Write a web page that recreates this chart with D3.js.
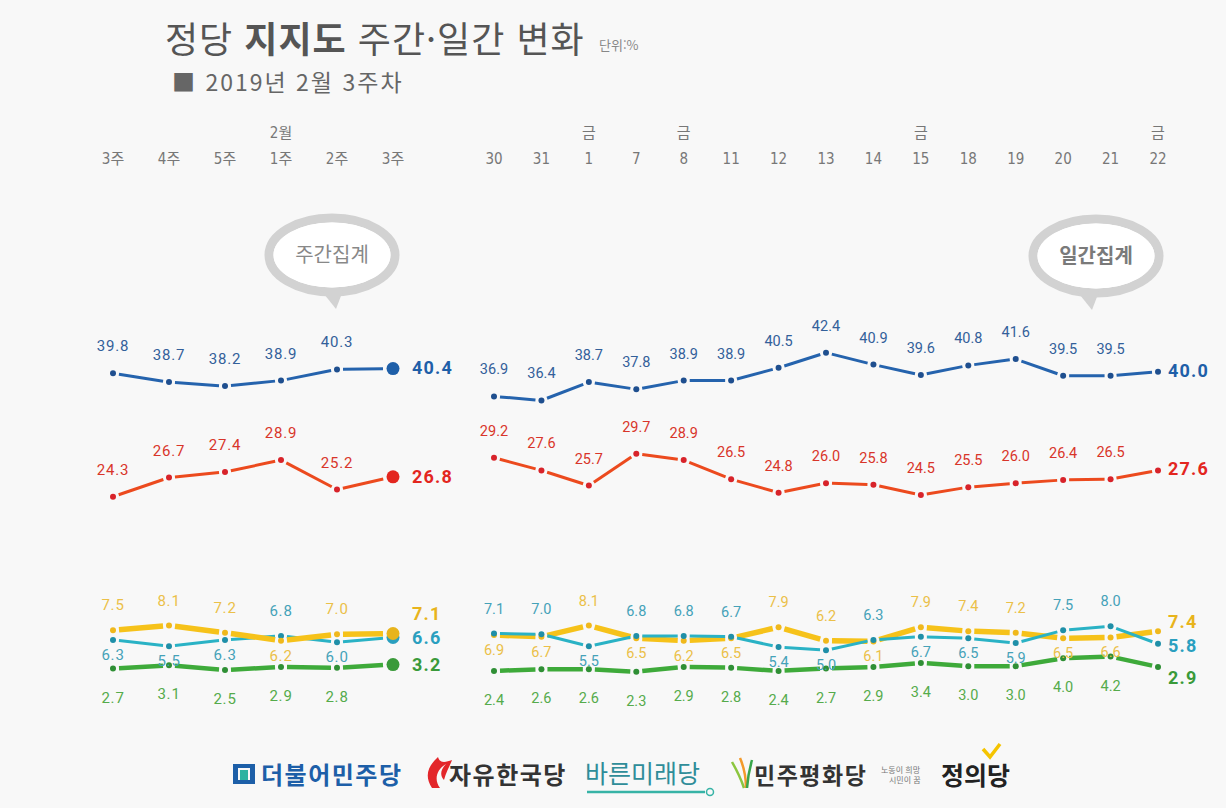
<!DOCTYPE html>
<html lang="ko">
<head>
<meta charset="UTF-8">
<title>정당 지지도 주간·일간 변화</title>
<script src="https://d3js.org/d3.v7.min.js"></script>
<style>
  body { margin: 0; background: #f8f8f8; }
  svg { display: block; }
</style>
</head>
<body>
<div id="chart"></div>
<script>
// ---- data ----
const weekLabels = ["3주", "4주", "5주", "1주", "2주", "3주"];
const weekTopLabels = ["", "", "", "2월", "", ""];
const dayLabels = ["30", "31", "1", "7", "8", "11", "12", "13", "14", "15", "18", "19", "20", "21", "22"];
const dayTopLabels = ["", "", "금", "", "금", "", "", "", "", "금", "", "", "", "", "금"];

// weekly (주간집계)
const weekMinjoo = [39.8, 38.7, 38.2, 38.9, 40.3, 40.4];
const weekHanguk = [24.3, 26.7, 27.4, 28.9, 25.2, 26.8];
const weekJeongui = [7.5, 8.1, 7.2, 6.2, 7.0, 7.1];
const weekBareun = [6.3, 5.5, 6.3, 6.8, 6.0, 6.6];
const weekPyeonghwa = [2.7, 3.1, 2.5, 2.9, 2.8, 3.2];

// daily (일간집계)
const dayMinjoo = [36.9, 36.4, 38.7, 37.8, 38.9, 38.9, 40.5, 42.4, 40.9, 39.6, 40.8, 41.6, 39.5, 39.5, 40.0];
const dayHanguk = [29.2, 27.6, 25.7, 29.7, 28.9, 26.5, 24.8, 26.0, 25.8, 24.5, 25.5, 26.0, 26.4, 26.5, 27.6];
const dayJeongui = [6.9, 6.7, 8.1, 6.5, 6.2, 6.5, 7.9, 6.2, 6.1, 7.9, 7.4, 7.2, 6.5, 6.6, 7.4];
const dayBareun = [7.1, 7.0, 5.5, 6.8, 6.8, 6.7, 5.4, 5.0, 6.3, 6.7, 6.5, 5.9, 7.5, 8.0, 5.8];
const dayPyeonghwa = [2.4, 2.6, 2.6, 2.3, 2.9, 2.8, 2.4, 2.7, 2.9, 3.4, 3.0, 3.0, 4.0, 4.2, 2.9];

const width = 1226, height = 808;

const svg = d3.select("#chart").append("svg")
  .attr("width", width).attr("height", height);

svg.append("rect").attr("width", width).attr("height", height).attr("fill", "#f8f8f8");

// styles per party
const styles = {
  minjoo:    { line: "#2563ad", dot: "#1f4f8f", text: "#33609a", end: "#1f5fa8", w: 3,   pos: "above" },
  hanguk:    { line: "#ec4a1e", dot: "#d8232a", text: "#d8352a", end: "#e3261f", w: 3,   pos: "above" },
  jeongui:   { line: "#f6c21a", dot: "#f0b81c", text: "#ebc048", end: "#e8b41c", w: 5.5, pos: "pair" },
  bareun:    { line: "#2ab2c5", dot: "#1f8fa8", text: "#45a2b8", end: "#2a9fbf", w: 3,   pos: "pair" },
  pyeonghwa: { line: "#3eaa3a", dot: "#2f8f35", text: "#55ab4b", end: "#3a9a3a", w: 4.5, pos: "below" }
};

const y = d3.scaleLinear().domain([0, 45]).range([690, 332]);

const xWeek = d3.scalePoint().domain(d3.range(weekLabels.length)).range([113, 393]);
const xDay = d3.scalePoint().domain(d3.range(dayLabels.length)).range([494, 1158]);

// ---- title ----
const title = svg.append("text")
  .attr("x", 165).attr("y", 53)
  .attr("font-family", "'Noto Sans CJK KR', sans-serif")
  .attr("font-size", 36).attr("letter-spacing", 1).attr("fill", "#555");
title.append("tspan").text("정당 ");
title.append("tspan").attr("font-weight", 700).text("지지도");
title.append("tspan").text(" 주간·일간 변화");

svg.append("text")
  .attr("x", 599).attr("y", 50)
  .attr("font-family", "'Noto Sans CJK KR', sans-serif")
  .attr("font-size", 13).attr("fill", "#888")
  .text("단위:%");

svg.append("text")
  .attr("x", 172).attr("y", 91)
  .attr("font-family", "'Noto Sans CJK KR', sans-serif")
  .attr("font-size", 23).attr("letter-spacing", 2).attr("fill", "#666")
  .text("■ 2019년 2월 3주차");

// ---- x labels ----
const axisFont = "'Liberation Sans Narrow', 'DejaVu Sans Condensed', 'Noto Sans CJK KR', sans-serif";
function xLabels(labels, top, x) {
  const g = svg.append("g")
    .attr("font-family", axisFont).attr("font-size", 15)
    .attr("fill", "#777").attr("text-anchor", "middle");
  g.selectAll("text.bottom").data(labels).join("text")
    .attr("class", "bottom")
    .attr("x", (d, i) => x(i)).attr("y", 164).text(d => d);
  g.selectAll("text.top").data(top).join("text")
    .attr("class", "top")
    .attr("x", (d, i) => x(i)).attr("y", 138).text(d => d);
}
xLabels(weekLabels, weekTopLabels, xWeek);
xLabels(dayLabels, dayTopLabels, xDay);

// ---- speech bubbles ----
function bubble(cx, cy, tipX, label, weight, color) {
  const rx = 63, ry = 37;
  const g = svg.append("g");
  g.append("ellipse")
    .attr("cx", cx).attr("cy", cy).attr("rx", rx).attr("ry", ry)
    .attr("fill", "#fff").attr("stroke", "#d2d2d2").attr("stroke-width", 9);
  g.append("path")
    .attr("d", `M${tipX - 14},${cy + ry - 3} L${tipX + 2},${cy + ry + 17} L${tipX + 10},${cy + ry - 4}`)
    .attr("fill", "#d2d2d2");
  g.append("ellipse")
    .attr("cx", cx).attr("cy", cy).attr("rx", rx - 4.5).attr("ry", ry - 4.5)
    .attr("fill", "#fff");
  g.append("text")
    .attr("x", cx).attr("y", cy + 7)
    .attr("text-anchor", "middle")
    .attr("font-family", "'Noto Sans CJK KR', sans-serif")
    .attr("font-size", 20).attr("font-weight", weight).attr("fill", color)
    .text(label);
}
bubble(332, 255, 334, "주간집계", 400, "#888");
bubble(1096, 256, 1090, "일간집계", 700, "#7a7a7a");

// ---- series drawing ----
const valueFont = "'Roboto', 'Noto Sans', sans-serif";

function drawPanel(x, series, opts) {
  const n = series[0].values.length;
  const layer = svg.append("g");

  // lines as gapped segments
  series.forEach(s => {
    const st = styles[s.key];
    const pts = s.values.map((v, i) => [x(i), y(v)]);
    const segs = d3.pairs(pts).map(([a, b], i) => {
      const g0 = 6;
      const g1 = (opts.bigEnd && i === n - 2) ? 10 : 6;
      const dx = b[0] - a[0], dy = b[1] - a[1];
      const len = Math.hypot(dx, dy);
      return [a[0] + dx / len * g0, a[1] + dy / len * g0,
              b[0] - dx / len * g1, b[1] - dy / len * g1];
    });
    layer.append("g").selectAll("line").data(segs).join("line")
      .attr("x1", d => d[0]).attr("y1", d => d[1])
      .attr("x2", d => d[2]).attr("y2", d => d[3])
      .attr("stroke", st.line).attr("stroke-width", st.w)
      .attr("stroke-linecap", "butt");
  });

  // dots
  series.forEach(s => {
    const st = styles[s.key];
    layer.append("g").selectAll("circle").data(s.values).join("circle")
      .attr("cx", (d, i) => x(i)).attr("cy", d => y(d))
      .attr("r", (d, i) => (opts.bigEnd && i === n - 1) ? 6.5 : 3)
      .attr("fill", (d, i) => (opts.bigEnd && i === n - 1) ? st.end : st.dot);
  });

  // value labels (all but last)
  const yel = series.find(s => s.key === "jeongui").values;
  const cya = series.find(s => s.key === "bareun").values;
  series.forEach(s => {
    const st = styles[s.key];
    const data = s.values.slice(0, n - 1);
    layer.append("g").selectAll("text").data(data).join("text")
      .attr("x", (d, i) => x(i))
      .attr("y", (d, i) => {
        let pos = st.pos;
        if (pos === "pair") {
          const other = s.key === "jeongui" ? cya[i] : yel[i];
          pos = d >= other ? "above" : "below";
        }
        if (st.pos === "above") return y(d) - 22;
        if (st.pos === "below") return y(d) + 34;
        return pos === "above" ? y(d) - 20 : y(d) + 20;
      })
      .attr("text-anchor", "middle")
      .attr("font-family", valueFont)
      .attr("font-size", opts.labelSize)
      .attr("letter-spacing", opts.labelSpacing)
      .attr("fill", st.text)
      .text(d => d.toFixed(1));
  });

  // end labels
  series.forEach(s => {
    const st = styles[s.key];
    const v = s.values[n - 1];
    layer.append("text")
      .attr("x", opts.endX)
      .attr("y", y(v) + opts.endOffset[s.key] + 6)
      .attr("font-family", valueFont)
      .attr("font-weight", 700)
      .attr("font-size", 18)
      .attr("letter-spacing", 1.2)
      .attr("fill", st.end)
      .text(v.toFixed(1));
  });
}

const weekSeries = [
  { key: "pyeonghwa", values: weekPyeonghwa },
  { key: "bareun", values: weekBareun },
  { key: "jeongui", values: weekJeongui },
  { key: "hanguk", values: weekHanguk },
  { key: "minjoo", values: weekMinjoo }
];
const daySeries = [
  { key: "pyeonghwa", values: dayPyeonghwa },
  { key: "jeongui", values: dayJeongui },
  { key: "bareun", values: dayBareun },
  { key: "hanguk", values: dayHanguk },
  { key: "minjoo", values: dayMinjoo }
];

drawPanel(xWeek, weekSeries, {
  bigEnd: true, labelSize: 15, labelSpacing: 0.8, endX: 412,
  endOffset: { minjoo: -1, hanguk: 0, jeongui: -20, bareun: 1, pyeonghwa: 0 }
});
drawPanel(xDay, daySeries, {
  bigEnd: false, labelSize: 14.5, labelSpacing: 0, endX: 1168,
  endOffset: { minjoo: -1, hanguk: -1, jeongui: -9, bareun: 2, pyeonghwa: 11 }
});

// ---- party logos (legend) ----
const lg = svg.append("g")
  .attr("font-family", "'Noto Sans CJK KR', sans-serif")
  .attr("font-weight", 700);

// 더불어민주당
lg.append("rect").attr("x", 233).attr("y", 764).attr("width", 22).attr("height", 20).attr("fill", "#1d5fa8");
lg.append("rect").attr("x", 238).attr("y", 768).attr("width", 12).attr("height", 12).attr("fill", "#f8f8f8");
lg.append("rect").attr("x", 240).attr("y", 770).attr("width", 8).attr("height", 10).attr("fill", "#2bb3a0");
lg.append("text").attr("x", 261).attr("y", 784).attr("font-size", 24)
  .attr("letter-spacing", 1.5).attr("fill", "#1d5fa8").text("더불어민주당");

// 자유한국당
lg.append("path")
  .attr("d", "M438,757 C428,766 424,776 432,788 L440,788 C434,780 436,770 446,764 C440,770 440,776 444,780 C446,772 450,766 452,760 C446,762 440,764 438,757 Z")
  .attr("fill", "#e3262a");
lg.append("text").attr("x", 449).attr("y", 784).attr("font-size", 24)
  .attr("letter-spacing", 1.5).attr("fill", "#333").text("자유한국당");

// 바른미래당
lg.append("text").attr("x", 585).attr("y", 783).attr("font-size", 25)
  .attr("font-weight", 400).attr("fill", "#2f8d99").text("바른미래당");
lg.append("line").attr("x1", 587).attr("y1", 792).attr("x2", 705).attr("y2", 792)
  .attr("stroke", "#37b3a6").attr("stroke-width", 2.5);
lg.append("circle").attr("cx", 710).attr("cy", 792).attr("r", 3.5)
  .attr("fill", "none").attr("stroke", "#37b3a6").attr("stroke-width", 1.5);

// 민주평화당
lg.append("path").attr("d", "M732,762 Q740,776 744,788").attr("fill", "none")
  .attr("stroke", "#8cc63f").attr("stroke-width", 2.5);
lg.append("path").attr("d", "M740,758 Q746,772 746,788").attr("fill", "none")
  .attr("stroke", "#f39a2b").attr("stroke-width", 2.5);
lg.append("path").attr("d", "M752,760 Q748,774 747,788").attr("fill", "none")
  .attr("stroke", "#3aa64a").attr("stroke-width", 2.5);
lg.append("text").attr("x", 754).attr("y", 784).attr("font-size", 23)
  .attr("letter-spacing", 1.5).attr("fill", "#333").text("민주평화당");

// 정의당
lg.append("text").attr("x", 881).attr("y", 773).attr("font-size", 8)
  .attr("font-weight", 400).attr("fill", "#777").text("노동이 희망");
lg.append("text").attr("x", 889).attr("y", 783).attr("font-size", 8)
  .attr("font-weight", 400).attr("fill", "#777").text("시민이 꿈");
lg.append("polyline").attr("points", "983,749 990,757 1000,744")
  .attr("fill", "none").attr("stroke", "#f5c400").attr("stroke-width", 3.5);
lg.append("text").attr("x", 941).attr("y", 785).attr("font-size", 25)
  .attr("fill", "#222").text("정의당");
</script>
</body>
</html>
